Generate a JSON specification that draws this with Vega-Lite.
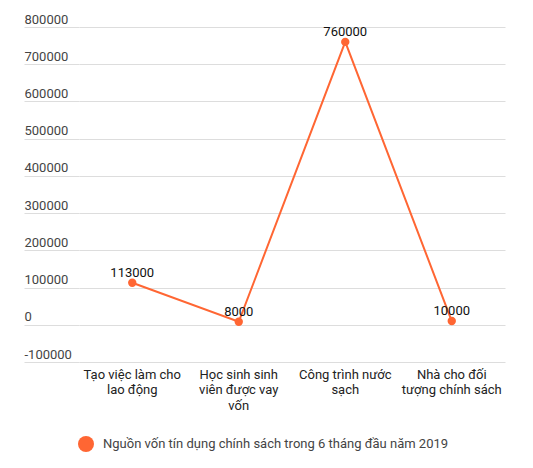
{
  "$schema": "https://vega.github.io/schema/vega-lite/v6.json",
  "autosize": {"type": "none"},
  "width": 426,
  "height": 335,
  "padding": {"left": 79, "top": 27, "right": 28, "bottom": 106},
  "background": "white",
  "config": {
    "view": {"stroke": null},
    "font": "Roboto",
    "axis": {"labelFont": "Roboto", "titleFont": "Roboto"},
    "legend": {"labelFont": "Roboto"}
  },
  "data": {
    "values": [
      {"category": "Tạo việc làm cho lao động", "value": 113000, "series": "Nguồn vốn tín dụng chính sách trong 6 tháng đầu năm 2019"},
      {"category": "Học sinh sinh viên được vay vốn", "value": 8000, "series": "Nguồn vốn tín dụng chính sách trong 6 tháng đầu năm 2019"},
      {"category": "Công trình nước sạch", "value": 760000, "series": "Nguồn vốn tín dụng chính sách trong 6 tháng đầu năm 2019"},
      {"category": "Nhà cho đối tượng chính sách", "value": 10000, "series": "Nguồn vốn tín dụng chính sách trong 6 tháng đầu năm 2019"}
    ]
  },
  "encoding": {
    "x": {
      "field": "category",
      "type": "nominal",
      "sort": null,
      "scale": {"type": "band", "paddingInner": 0, "paddingOuter": 0},
      "axis": {
        "title": null,
        "domain": false,
        "ticks": false,
        "labelAngle": 0,
        "labelPadding": 6,
        "labelFontSize": 13,
        "labelColor": "#222222",
        "labelLineHeight": 15.5,
        "labelBaseline": "top",
        "labelLimit": 200,
        "labelExpr": "datum.label == 'Tạo việc làm cho lao động' ? ['Tạo việc làm cho', 'lao động'] : datum.label == 'Học sinh sinh viên được vay vốn' ? ['Học sinh sinh', 'viên được vay', 'vốn'] : datum.label == 'Công trình nước sạch' ? ['Công trình nước', 'sạch'] : ['Nhà cho đối', 'tượng chính sách']"
      }
    },
    "y": {
      "field": "value",
      "type": "quantitative",
      "scale": {"domain": [-100000, 800000], "nice": false, "zero": false},
      "axis": {
        "title": null,
        "values": [-100000, 0, 100000, 200000, 300000, 400000, 500000, 600000, 700000, 800000],
        "format": "d",
        "labelExpr": "replace(datum.label, '−', '-')",
        "domain": false,
        "grid": true,
        "gridColor": "#dddddd",
        "gridWidth": 1,
        "ticks": true,
        "tickSize": 55,
        "tickColor": "#dddddd",
        "tickWidth": 1,
        "labelAlign": "left",
        "labelBaseline": "alphabetic",
        "labelPadding": 0,
        "labelOffset": -4,
        "labelFontSize": 13,
        "labelColor": "#444444"
      }
    }
  },
  "layer": [
    {
      "mark": {"type": "line", "color": "#ff6633", "strokeWidth": 2}
    },
    {
      "mark": {"type": "point", "filled": true, "opacity": 1, "size": 70, "shape": "circle"},
      "encoding": {
        "color": {
          "field": "series",
          "type": "nominal",
          "scale": {"range": ["#ff6633"]},
          "legend": {
            "title": null,
            "orient": "none",
            "legendX": -1,
            "legendY": 409,
            "padding": 0,
            "symbolType": "circle",
            "symbolSize": 256,
            "symbolStrokeWidth": 0,
            "symbolOpacity": 1,
            "labelFontSize": 13,
            "labelColor": "#444444",
            "labelOffset": 9,
            "labelLimit": 500
          }
        }
      }
    },
    {
      "mark": {"type": "text", "dy": -6, "baseline": "alphabetic", "align": "center", "fontSize": 13, "color": "#111111", "font": "Roboto"},
      "encoding": {
        "text": {"field": "value", "type": "quantitative", "format": "d"}
      }
    }
  ]
}
